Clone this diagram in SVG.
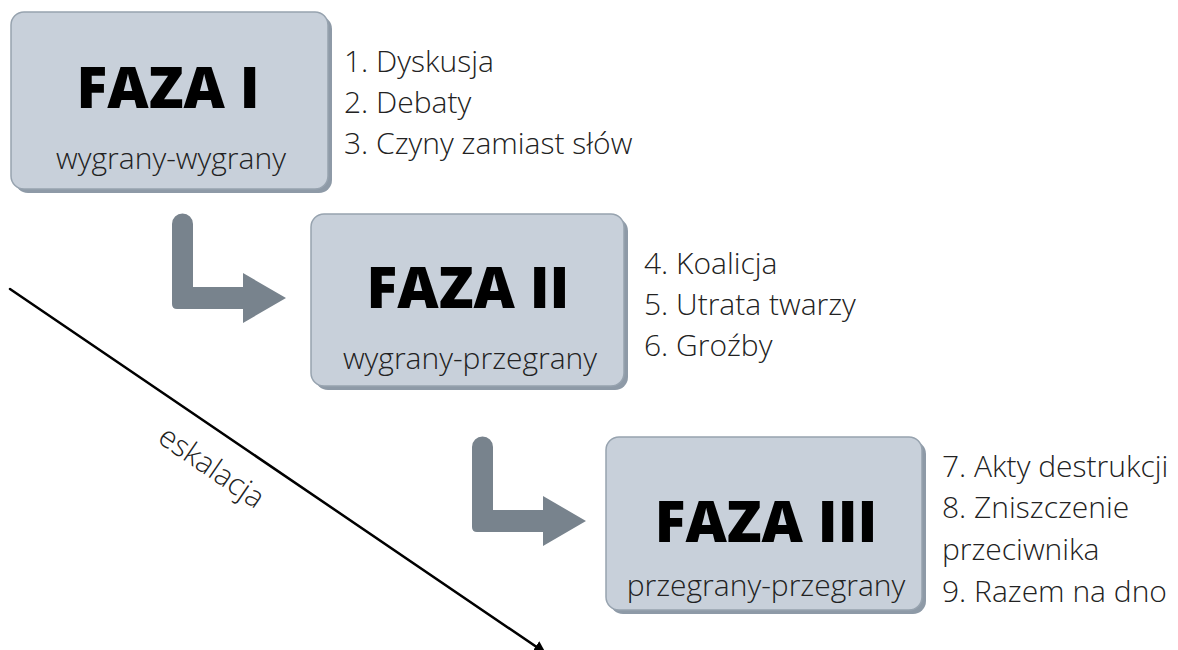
<svg xmlns="http://www.w3.org/2000/svg" width="1178" height="650" viewBox="0 0 1178 650">
<defs>
<style>
.shadow{fill:#8e9aa7}
.box{fill:#c8d0da;stroke:#97a3af;stroke-width:1.5}
.title{font-family:"Open Sans","Liberation Sans",sans-serif;font-weight:800;font-size:57px;fill:#000;text-anchor:middle}
.sub{font-family:"Open Sans","Liberation Sans",sans-serif;font-weight:300;font-size:30px;fill:#222;text-anchor:middle}
.list{font-family:"Open Sans","Liberation Sans",sans-serif;font-weight:300;font-size:30px;fill:#222}
.garrow{fill:#78838d}
</style>
<marker id="ah" viewBox="0 0 10 10" refX="8" refY="5" markerWidth="5" markerHeight="5" orient="auto" markerUnits="strokeWidth">
<path d="M0,0 L10,5 L0,10 z" fill="#000"/>
</marker>
</defs>
<rect width="1178" height="650" fill="#fff"/>
<g id="faza1">
<rect class="shadow" x="15" y="16" width="317" height="177" rx="13"/>
<rect class="box" x="11" y="12" width="317" height="177" rx="13"/>
<text class="title" x="168" y="108">FAZA I</text>
<text class="sub" x="171" y="169">wygrany-wygrany</text>
</g>
<g id="list1">
<text class="list" x="344" y="72">1. Dyskusja</text>
<text class="list" x="344" y="113">2. Debaty</text>
<text class="list" x="344" y="154">3. Czyny zamiast słów</text>
</g>
<g id="faza2">
<rect class="shadow" x="315" y="218" width="313" height="172" rx="13"/>
<rect class="box" x="311" y="214" width="313" height="172" rx="13"/>
<text class="title" x="468" y="308">FAZA II</text>
<text class="sub" x="470" y="369">wygrany-przegrany</text>
</g>
<g id="list2">
<text class="list" x="644" y="274">4. Koalicja</text>
<text class="list" x="644" y="315">5. Utrata twarzy</text>
<text class="list" x="644" y="356">6. Groźby</text>
</g>
<g id="faza3">
<rect class="shadow" x="610" y="441" width="316" height="173" rx="13"/>
<rect class="box" x="606" y="437" width="316" height="173" rx="13"/>
<text class="title" x="766" y="542">FAZA III</text>
<text class="sub" x="766" y="596">przegrany-przegrany</text>
</g>
<g id="list3">
<text class="list" x="942" y="477">7. Akty destrukcji</text>
<text class="list" x="942" y="518">8. Zniszczenie</text>
<text class="list" x="942" y="560">przeciwnika</text>
<text class="list" x="942" y="602">9. Razem na dno</text>
</g>
<g id="connectors">
<path class="garrow" d="M172,224 A10.5,10.5 0 0 1 193,224 L193,287 L243,287 L243,273 L286,298 L243,323 L243,309 L177,309 Q172,309 172,304 Z"/>
<path class="garrow" d="M472,447 A10.5,10.5 0 0 1 493,447 L493,510 L543,510 L543,496 L586,521 L543,546 L543,532 L477,532 Q472,532 472,527 Z"/>
<line x1="10" y1="289" x2="544" y2="652" stroke="#000" stroke-width="2.5" stroke-linecap="round" marker-end="url(#ah)"/>
<text class="sub" transform="translate(211,468) rotate(34.5)" y="9">eskalacja</text>
</g>
</svg>
